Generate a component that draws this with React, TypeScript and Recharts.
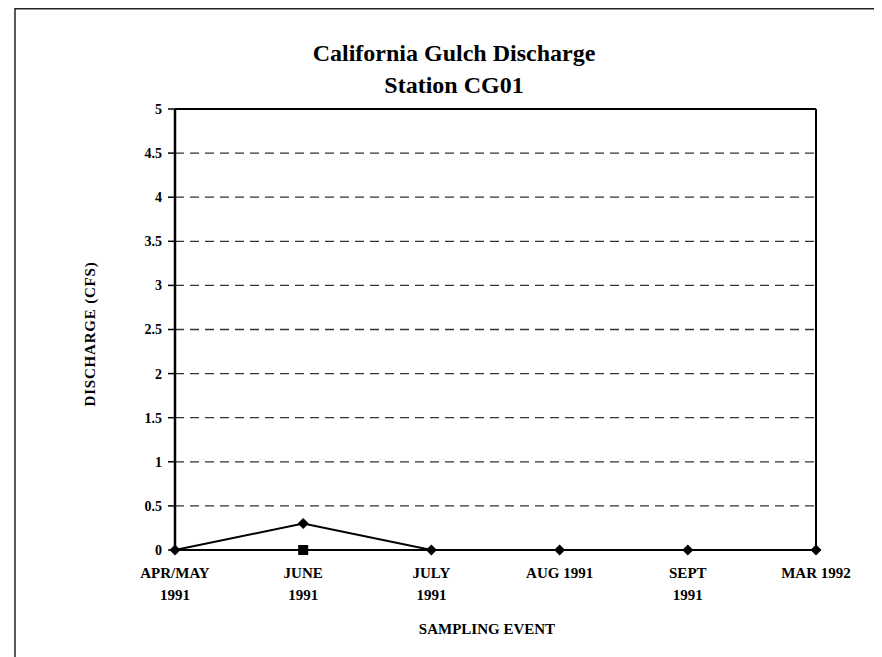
import React from 'react';
import { LineChart, Line, XAxis, YAxis, CartesianGrid, ReferenceLine } from 'recharts';

// Sampling events (two-line labels split on "\n")
const samplingEvents = ['APR/MAY\n1991', 'JUNE\n1991', 'JULY\n1991', 'AUG 1991', 'SEPT\n1991', 'MAR 1992'];
// Discharge measured at station CG01, cubic feet per second
const dischargeCfs = [0, 0.3, 0, 0, 0, 0];
// Second reading taken at the June event
const secondReadingCfs: (number | null)[] = [null, 0, null, null, null, null];
// Y axis tick values
const yTicks = [0, 0.5, 1, 1.5, 2, 2.5, 3, 3.5, 4, 4.5, 5];

const data = samplingEvents.map((event, i) => ({
  event,
  discharge: dischargeCfs[i],
  second: secondReadingCfs[i],
}));

const W = 874;
const H = 649;
const FONT = '"Liberation Serif", "Times New Roman", serif';

function EventTick(props: any) {
  const { x, y, payload } = props;
  const lines = String(payload.value).split('\n');
  return (
    <g>
      {lines.map((ln, i) => (
        <text
          key={i}
          x={x}
          y={y + 28 + i * 22}
          textAnchor="middle"
          fontFamily={FONT}
          fontWeight={700}
          fontSize={15}
          fill="#000"
        >
          {ln}
        </text>
      ))}
    </g>
  );
}

function Diamond(props: any) {
  const { cx, cy, index } = props;
  if (cx == null || cy == null || Number.isNaN(cy)) return <g key={`d-${index}`} />;
  const r = 5.5;
  return (
    <path
      key={`d-${index}`}
      d={`M${cx},${cy - r} L${cx + r},${cy} L${cx},${cy + r} L${cx - r},${cy} Z`}
      fill="#000"
      stroke="none"
    />
  );
}

function Square(props: any) {
  const { cx, cy, index } = props;
  if (cx == null || cy == null || Number.isNaN(cy)) return <g key={`s-${index}`} />;
  const s = 10;
  return <rect key={`s-${index}`} x={cx - s / 2} y={cy - s / 2} width={s} height={s} fill="#000" />;
}

export default function App() {
  return (
    <div style={{ position: 'relative', width: W, height: H }}>
      <style>{'body{overflow:hidden}'}</style>
      <LineChart
        width={W}
        height={H}
        data={data}
        margin={{ top: 101, right: 66, bottom: 47, left: 0 }}
      >
        <CartesianGrid vertical={false} stroke="#333" strokeWidth={1.3} strokeDasharray="9 6" />
        <XAxis
          dataKey="event"
          interval={0}
          height={60}
          tickLine={false}
          tickSize={0}
          tickMargin={0}
          axisLine={{ stroke: '#000', strokeWidth: 2 }}
          tick={<EventTick />}
        />
        <YAxis
          width={167}
          domain={[0, 5]}
          ticks={yTicks}
          interval={0}
          tickSize={7}
          tickMargin={6}
          axisLine={{ stroke: '#000', strokeWidth: 2.5 }}
          tickLine={{ stroke: '#000', strokeWidth: 1.5 }}
          tick={{ fill: '#000', fontSize: 14, fontWeight: 700, fontFamily: FONT }}
        />
        <ReferenceLine y={5} stroke="#000" strokeWidth={2} />
        <ReferenceLine x="MAR 1992" stroke="#000" strokeWidth={2} />
        <Line
          dataKey="discharge"
          stroke="#000"
          strokeWidth={2}
          dot={<Diamond />}
          isAnimationActive={false}
        />
        <Line
          dataKey="second"
          stroke="none"
          dot={<Square />}
          connectNulls={false}
          isAnimationActive={false}
        />
      </LineChart>
      <svg
        width={W}
        height={H}
        style={{ position: 'absolute', left: 0, top: 0, pointerEvents: 'none' }}
      >
        <path d={`M7,${H} L7,0.75 L${W},0.75`} fill="none" stroke="#222" strokeWidth={1.5} />
        <text x={446} y={53} textAnchor="middle" fontFamily={FONT} fontWeight={700} fontSize={24} fill="#000">
          California Gulch Discharge
        </text>
        <text x={446} y={85} textAnchor="middle" fontFamily={FONT} fontWeight={700} fontSize={24} fill="#000">
          Station CG01
        </text>
        <text
          x={87}
          y={326}
          transform="rotate(-90 87 326)"
          textAnchor="middle"
          fontFamily={FONT}
          fontWeight={700}
          fontSize={15}
          letterSpacing={0.8}
          fill="#000"
        >
          DISCHARGE (CFS)
        </text>
        <text x={479} y={626} textAnchor="middle" fontFamily={FONT} fontWeight={700} fontSize={15} fill="#000">
          SAMPLING EVENT
        </text>
      </svg>
    </div>
  );
}
